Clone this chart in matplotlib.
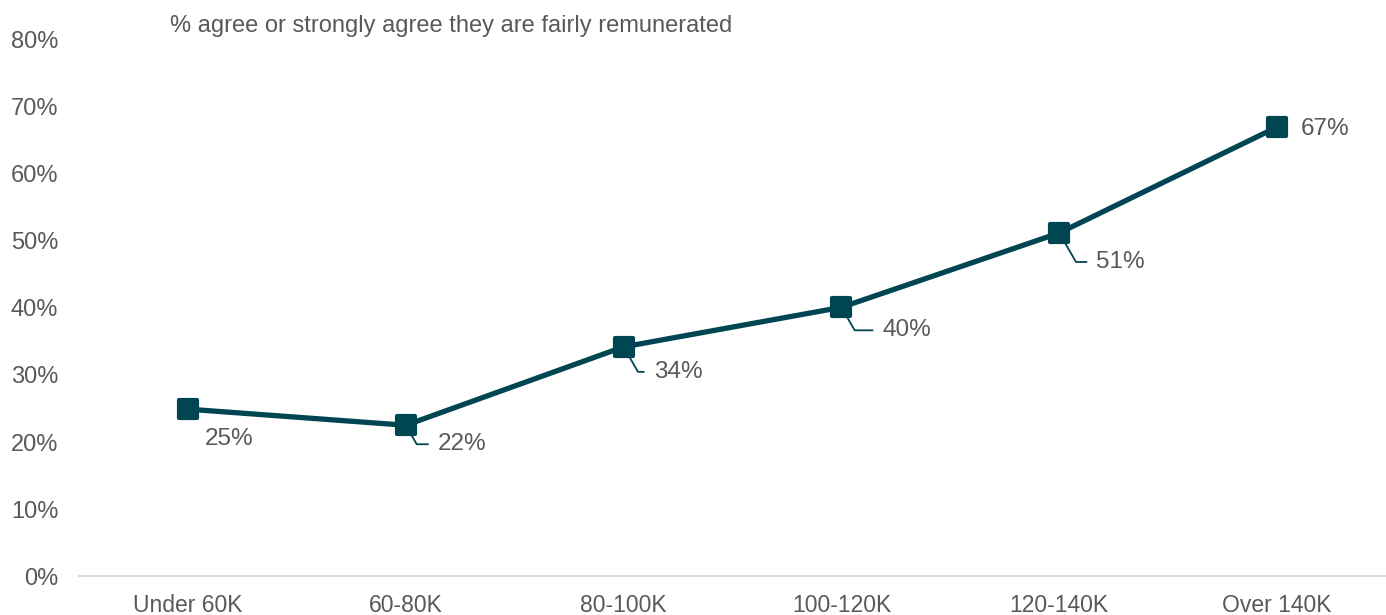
import matplotlib
matplotlib.use("Agg")
import matplotlib.pyplot as plt
from matplotlib.markers import MarkerStyle
from matplotlib.ticker import PercentFormatter

INK = "#595959"
LINE = "#004552"
plt.rcParams.update({"font.family": ["Liberation Sans", "DejaVu Sans"], "font.size": 17})

categories = ["Under 60K", "60-80K", "80-100K", "100-120K", "120-140K", "Over 140K"]
values = [24.9, 22.5, 34.2, 40.1, 51.2, 67.0]
labels = ["25%", "22%", "34%", "40%", "51%", "67%"]
# label offsets in pixels (dx, dy) and whether a leader line is drawn
offsets = [(17, -30), (32, -19), (30, -25), (41, -23), (37, -29), (24, -2)]
leaders = [False, True, True, True, True, False]

fig = plt.figure(figsize=(13.86, 6.15), dpi=100)
ax = fig.add_axes([0.057, 0.0634, 0.943, 0.8716])
x = range(len(categories))
ax.plot(x, values, color=LINE, lw=3.8, marker=MarkerStyle("s", joinstyle="round"),
        markersize=13, markeredgewidth=3, markerfacecolor=LINE, markeredgecolor=LINE, zorder=3)

for i, (v, lab, (dx, dy), ld) in enumerate(zip(values, labels, offsets, leaders)):
    kw = {}
    if ld:
        kw["arrowprops"] = dict(arrowstyle="-", color=LINE, lw=1.3, shrinkA=5, shrinkB=0,
                                relpos=(0, 0.5), connectionstyle="angle,angleA=0,angleB=-60,rad=0")
    ax.annotate(lab, xy=(i, v), xytext=(dx, dy), textcoords="offset pixels",
                ha="left", va="center", color=INK, fontsize=17.5, zorder=1, **kw)

ax.set_xlim(-0.5, 5.5)
ax.set_ylim(0, 80)
ax.set_yticks(range(0, 81, 10))
ax.yaxis.set_major_formatter(PercentFormatter(decimals=0))
ax.set_xticks(list(x))
ax.set_xticklabels(categories)
ax.tick_params(axis="both", length=0, colors=INK)
ax.tick_params(axis="y", pad=15, labelsize=17)
ax.tick_params(axis="x", pad=13, labelsize=16.5)
for s in ("top", "right", "left"):
    ax.spines[s].set_visible(False)
ax.spines["bottom"].set_color("#D9D9D9")
ax.spines["bottom"].set_linewidth(1.3)
ax.set_facecolor("none")

fig.text(170 / 1386, 1 - 26 / 615, "% agree or strongly agree they are fairly remunerated",
         ha="left", va="center", color=INK, fontsize=17)

fig.savefig("out.png", dpi=100)
